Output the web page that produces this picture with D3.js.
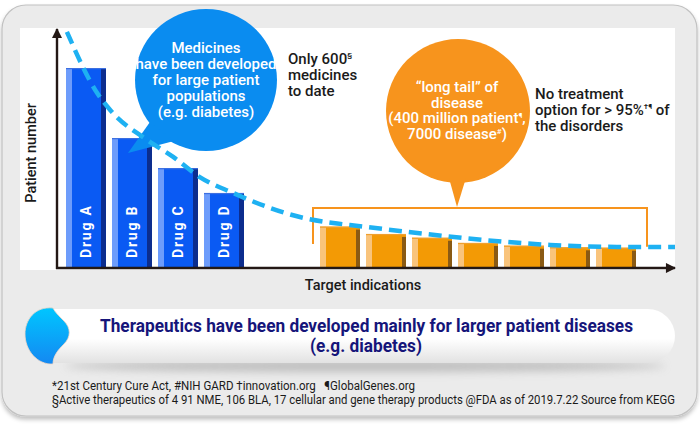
<!DOCTYPE html>
<html><head><meta charset="utf-8">
<script src="https://cdn.jsdelivr.net/npm/d3@7/dist/d3.min.js"></script>
<style>html,body{margin:0;padding:0;background:#fff;}svg{display:block;}text{white-space:pre;}</style>
</head><body><svg id="c" width="700" height="431"></svg>
<script>
// ---- data ----
const drugs = ["Drug A", "Drug B", "Drug C", "Drug D"];
const drugValues = [100, 64.8, 49.7, 37.2];
const tailIndications = ["T1", "T2", "T3", "T4", "T5", "T6", "T7"];
const tailValues = [20.3, 16.6, 14.7, 12.1, 10.7, 9.9, 9.7];
// trend curve (indication rank 0..10, patient number)
const curveX = [0.16, 0.65, 0.86, 1.46, 1.88, 2.31, 2.85, 3.40, 3.93, 4.47, 4.74, 5.83, 6.89, 7.98, 9.06, 10];
const curveY = [118.2, 87.4, 78.9, 63.8, 55.3, 45.2, 37.2, 30.2, 25.1, 22.1, 21.1, 17.1, 13.6, 11.1, 10.1, 10.1];
const yTitle = "Patient number";
const xTitle = "Target indications";
const blueBubble = ["Medicines", "have been developed", "for large patient", "populations", "(e.g. diabetes)"];
const noteLeft = ["Only 600", "medicines", "to date"];
const noteRight = ["No treatment", "option for > 95%", "the disorders"];
const banner = ["Therapeutics have been developed mainly for larger patient diseases", "(e.g. diabetes)"];
const footer = ["*21st Century Cure Act, #NIH GARD \u2020innovation.org   \u00B6GlobalGenes.org",
  "\u00A7Active therapeutics of 4 91 NME, 106 BLA, 17 cellular and gene therapy products @FDA as of 2019.7.22 Source from KEGG"];

const FONT = "Roboto, 'Open Sans', sans-serif";
const svg = d3.select("#c");
const defs = svg.append("defs");

// filters & gradients
const sh = defs.append("filter").attr("id", "sh").attr("x", "-5%").attr("y", "-5%").attr("width", "110%").attr("height", "115%");
sh.append("feGaussianBlur").attr("in", "SourceAlpha").attr("stdDeviation", 2);
sh.append("feOffset").attr("dy", 3).attr("result", "o");
sh.append("feFlood").attr("flood-color", "#000").attr("flood-opacity", 0.25);
sh.append("feComposite").attr("in2", "o").attr("operator", "in");
const mg = sh.append("feMerge"); mg.append("feMergeNode"); mg.append("feMergeNode").attr("in", "SourceGraphic");

const blur = defs.append("filter").attr("id", "blur").attr("x", "-20%").attr("y", "-100%").attr("width", "140%").attr("height", "300%");
blur.append("feGaussianBlur").attr("stdDeviation", 4);

const pg = defs.append("linearGradient").attr("id", "pill").attr("x1", 0).attr("y1", 0).attr("x2", 0).attr("y2", 1);
pg.append("stop").attr("offset", "0%").attr("stop-color", "#ffffff");
pg.append("stop").attr("offset", "55%").attr("stop-color", "#ffffff");
pg.append("stop").attr("offset", "100%").attr("stop-color", "#e2e2e2");
const bg = defs.append("linearGradient").attr("id", "blueShape").attr("x1", 0).attr("y1", 0).attr("x2", 0).attr("y2", 1);
bg.append("stop").attr("offset", "0%").attr("stop-color", "#00c6ff");
bg.append("stop").attr("offset", "100%").attr("stop-color", "#1488f2");

const marker = defs.append("marker").attr("id", "arrow").attr("viewBox", "0 0 10 10").attr("refX", 9).attr("refY", 5)
  .attr("markerWidth", 7).attr("markerHeight", 4.2).attr("markerUnits", "strokeWidth").attr("orient", "auto");
marker.append("path").attr("d", "M0,0 L10,5 L0,10 Z").attr("fill", "#231815");

// card
svg.append("rect").attr("x", 2).attr("y", 5).attr("width", 695).attr("height", 411).attr("rx", 24)
  .attr("fill", "#ebebeb").attr("stroke", "#c2c2c2").attr("stroke-width", 1.2).attr("filter", "url(#sh)");
svg.append("rect").attr("x", 20).attr("y", 28).attr("width", 655).attr("height", 242).attr("fill", "#ffffff");

// scales
const y = d3.scaleLinear().domain([0, 100]).range([267, 68]);
const xDrug = d3.scaleBand().domain(drugs).range([66, 244]).paddingInner(6 / 46).paddingOuter(0);
const xTail = d3.scaleBand().domain(tailIndications).range([320, 636]).paddingInner(6 / 46).paddingOuter(0);
const xCurve = d3.scaleLinear().domain([0, 10]).range([57, 675]);

function drawBars(data, xs, cols) {
  const g = svg.append("g");
  const bw = xs.bandwidth();
  const b = g.selectAll("g").data(data).join("g").attr("transform", d => `translate(${xs(d.k)},0)`);
  b.append("rect").attr("x", 0).attr("y", d => y(d.v)).attr("width", bw).attr("height", d => y(0) - y(d.v)).attr("fill", cols.main);
  b.append("rect").attr("x", 0).attr("y", d => y(d.v)).attr("width", bw * 0.15).attr("height", d => y(0) - y(d.v)).attr("fill", cols.light);
  b.append("rect").attr("x", bw - cols.dw).attr("y", d => y(d.v) + cols.dOff).attr("width", cols.dw).attr("height", d => y(0) - y(d.v) - cols.dOff).attr("fill", cols.dark);
  b.append("rect").attr("x", 0).attr("y", d => y(d.v)).attr("width", bw).attr("height", 1.2).attr("fill", cols.top);
  return b;
}
const blueBars = drawBars(drugs.map((k, i) => ({ k, v: drugValues[i] })), xDrug,
  { main: "#0a5af3", light: "#6d9cfb", dark: "#0c2d8e", top: "#3d6fe0", dw: 5, dOff: 0 });
blueBars.append("text")
  .attr("transform", `translate(${xDrug.bandwidth() / 2 + 5},${y(0) - 9}) rotate(-90)`)
  .attr("font-family", FONT).attr("font-weight", 700).attr("font-size", 14).attr("letter-spacing", 1.8)
  .attr("fill", "#fff").text(d => d.k);
drawBars(tailIndications.map((k, i) => ({ k, v: tailValues[i] })), xTail,
  { main: "#f39a05", light: "#f9c47c", dark: "#8a5a14", top: "#f0a030", dw: 4, dOff: 3 });

// axes
svg.append("line").attr("x1", 57).attr("y1", 269).attr("x2", 57).attr("y2", 29)
  .attr("stroke", "#231815").attr("stroke-width", 2.4).attr("marker-end", "url(#arrow)");
svg.append("line").attr("x1", 56).attr("y1", 268).attr("x2", 675).attr("y2", 268)
  .attr("stroke", "#231815").attr("stroke-width", 2.4).attr("marker-end", "url(#arrow)");
svg.append("text").attr("transform", "translate(36,153) rotate(-90)").attr("text-anchor", "middle")
  .attr("font-family", FONT).attr("font-weight", 500).attr("font-size", 14.5).attr("fill", "#1a1a1a").text(yTitle);
svg.append("text").attr("x", 363).attr("y", 290).attr("text-anchor", "middle")
  .attr("font-family", FONT).attr("font-weight", 500).attr("font-size", 14.5).attr("fill", "#1a1a1a").text(xTitle);

// bracket over long tail
const bl = xTail.range()[0] - 7, br = xTail.range()[1] + 11;
svg.append("path").attr("d", `M${bl},${y(11.5)} V${y(29.6)} H${br} V${y(10.2)}`)
  .attr("fill", "none").attr("stroke", "#f7941d").attr("stroke-width", 2);

// bubbles
svg.append("circle").attr("cx", 206).attr("cy", 80).attr("r", 71).attr("fill", "#0a8cf0");
svg.append("path").attr("d", "M150,122 L174,141 L128,153 Z").attr("fill", "#0a8cf0");
svg.append("circle").attr("cx", 458).attr("cy", 111).attr("r", 72).attr("fill", "#f7941d");
svg.append("path").attr("d", "M449,178 L466,178 L457,207 Z").attr("fill", "#f7941d");

// trend curve
const line = d3.line().x((d, i) => xCurve(curveX[i])).y(d => y(d)).curve(d3.curveMonotoneX);
svg.append("path").datum(curveY).attr("d", line).attr("fill", "none")
  .attr("stroke", "#1eb1f2").attr("stroke-width", 4.5).attr("stroke-dasharray", "13,7");

// bubble texts
const bt = svg.append("text").attr("font-family", FONT).attr("font-weight", 500).attr("font-size", 15)
  .attr("fill", "#fff").attr("text-anchor", "middle");
blueBubble.forEach((s, i) => bt.append("tspan").attr("x", 206).attr("y", 53 + i * 16).text(s));

const ot = svg.append("text").attr("font-family", FONT).attr("font-weight", 500).attr("font-size", 15)
  .attr("fill", "#fff").attr("text-anchor", "middle");
ot.append("tspan").attr("x", 457).attr("y", 92).text("\u201Clong tail\u201D of");
ot.append("tspan").attr("x", 457).attr("y", 107.5).text("disease");
ot.append("tspan").attr("x", 457).attr("y", 123).text("(400 million patient");
ot.append("tspan").attr("font-size", 8).attr("dy", -5).text("\u00B6");
ot.append("tspan").attr("dy", 5).text(",");
ot.append("tspan").attr("x", 457).attr("y", 139).text("7000 disease");
ot.append("tspan").attr("font-size", 8).attr("dy", -5).text("#");
ot.append("tspan").attr("dy", 5).text(")");

// side notes
const nl = svg.append("text").attr("font-family", FONT).attr("font-weight", 500).attr("font-size", 15).attr("fill", "#1a1a1a");
nl.append("tspan").attr("x", 288).attr("y", 64).text(noteLeft[0]);
nl.append("tspan").attr("font-size", 8).attr("dy", -6).text("\u00A7");
nl.append("tspan").attr("x", 288).attr("y", 80).text(noteLeft[1]);
nl.append("tspan").attr("x", 288).attr("y", 96).text(noteLeft[2]);
const nr = svg.append("text").attr("font-family", FONT).attr("font-weight", 500).attr("font-size", 15).attr("fill", "#1a1a1a");
nr.append("tspan").attr("x", 535).attr("y", 99).text(noteRight[0]);
nr.append("tspan").attr("x", 535).attr("y", 115).text(noteRight[1]);
nr.append("tspan").attr("font-size", 8).attr("dy", -6).text("\u2020\u00B6");
nr.append("tspan").attr("dy", 6).text(" of");
nr.append("tspan").attr("x", 535).attr("y", 131).text(noteRight[2]);

// banner
svg.append("ellipse").attr("cx", 365).attr("cy", 366).attr("rx", 300).attr("ry", 6).attr("fill", "#9a9a9a").attr("opacity", 0.55).attr("filter", "url(#blur)");
svg.append("path").attr("d", "M53,309 H648 A27,27 0 0 1 648,363 H53 Z").attr("fill", "url(#pill)");
svg.append("path").attr("d", "M53,308 C35,306 25,320 25,334 C25,350 37,365 53,364 C53,356 58,350 64,344 C71,337 71,328 64,321 C58,315 55,312 53,308 Z")
  .attr("fill", "url(#blueShape)").attr("stroke", "#f3d8c6").attr("stroke-width", 0.8);
svg.append("text").attr("x", 366.5).attr("y", 332).attr("text-anchor", "middle").attr("textLength", 533).attr("lengthAdjust", "spacingAndGlyphs")
  .attr("font-family", FONT).attr("font-weight", 700).attr("font-size", 17.5).attr("fill", "#15157a").text(banner[0]);
svg.append("text").attr("x", 366).attr("y", 352).attr("text-anchor", "middle").attr("textLength", 112).attr("lengthAdjust", "spacingAndGlyphs")
  .attr("font-family", FONT).attr("font-weight", 700).attr("font-size", 17.5).attr("fill", "#15157a").text(banner[1]);

// footer
svg.append("text").attr("x", 52).attr("y", 390).attr("textLength", 363).attr("lengthAdjust", "spacingAndGlyphs")
  .attr("font-family", FONT).attr("font-size", 12.5).attr("fill", "#1a1a1a").text(footer[0]);
svg.append("text").attr("x", 52).attr("y", 403.5).attr("textLength", 623).attr("lengthAdjust", "spacingAndGlyphs")
  .attr("font-family", FONT).attr("font-size", 12.5).attr("fill", "#1a1a1a").text(footer[1]);
</script></body></html>
